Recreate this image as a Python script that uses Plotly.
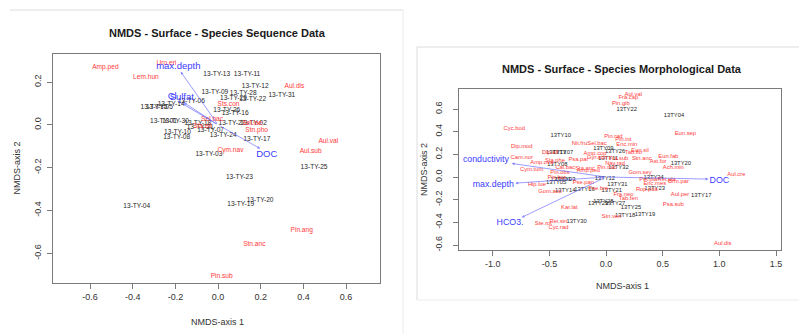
import plotly.graph_objects as go

# ---------------- Species sequence data (left ordination) ----------------
seq_site_names = ["13-TY-13", "13-TY-11", "13-TY-12", "13-TY-31", "13-TY-09", "13-TY-28",
                  "13-TY-29", "13-TY-22", "13-TY-06", "13-TY-14", "13-TY-15", "13-TY-05",
                  "13-TY-26", "13-TY-16", "13-TY-01", "13-TY-30", "13-TY-18", "13-TY-27",
                  "13-TY-02", "13-TY-21", "13-TY-07", "13-TY-10", "13-TY-08", "13-TY-24",
                  "13-TY-17", "13-TY-03", "13-TY-25", "13-TY-23", "13-TY-20", "13-TY-19",
                  "13-TY-04"]
seq_site_x = [-0.006, 0.136, 0.174, 0.299, -0.015, 0.118, 0.072, 0.162, -0.125, -0.22,
              -0.30, -0.275, 0.041, 0.08, -0.256, -0.20, -0.095, 0.065, 0.166, -0.084,
              -0.035, -0.19, -0.194, 0.024, 0.182, -0.043, 0.45, 0.10, 0.197, 0.106, -0.381]
seq_site_y = [0.238, 0.238, 0.18, 0.137, 0.15, 0.148, 0.124, 0.12, 0.112, 0.098,
              0.084, 0.084, 0.068, 0.053, 0.017, 0.017, 0.009, 0.006, 0.006, -0.014,
              -0.025, -0.034, -0.058, -0.048, -0.07, -0.138, -0.2, -0.247, -0.353, -0.373,
              -0.383]

seq_species_names = ["Amp.ped", "Uro.eri", "Lem.hun", "Aul.dis", "Sts.con", "Sel.bac",
                     "Sta.ell", "Sel.lae", "Stn.pho", "Aul.val", "Aul.sub", "Cym.nav",
                     "Pin.ang", "Stn.anc", "Pin.sub"]
seq_species_x = [-0.528, -0.242, -0.338, 0.358, 0.049, -0.028, -0.074, 0.16, 0.181, 0.517,
                 0.434, 0.058, 0.392, 0.17, 0.017]
seq_species_y = [0.27, 0.288, 0.223, 0.18, 0.094, 0.027, -0.006, 0.009, -0.025, -0.075,
                 -0.122, -0.12, -0.495, -0.558, -0.706]

seq_env_names = ["max.depth", "Cl", "Sulfat", "DOC"]
seq_env_x = [-0.175, -0.19, -0.16, 0.197]
seq_env_y = [0.248, 0.112, 0.104, -0.111]
seq_env_label_x = [-0.186, -0.215, -0.17, 0.228]
seq_env_label_y = [0.27, 0.133, 0.129, -0.1375]

seq_xticks = [-0.6, -0.4, -0.2, 0.0, 0.2, 0.4, 0.6]
seq_xtick_text = ["-0.6", "-0.4", "-0.2", "0.0", "0.2", "0.4", "0.6"]
seq_yticks = [-0.6, -0.4, -0.2, 0.0, 0.2]
seq_ytick_text = ["-0.6", "-0.4", "-0.2", "0.0", "0.2"]

# ---------------- Species morphological data (right ordination) ----------------
morph_site_names = ["13TY22", "13TY04", "13TY10", "13TY09", "13TY26", "13TY13", "13TY07",
                    "13TY08", "13TY11", "13TY32", "13TY20", "13TY12", "13TY24", "13TY31",
                    "13TY21", "13TY23", "13TY17", "13TY16", "13TY14", "13TY05", "13TY01",
                    "13TY03", "13TY28", "13TY29", "13TY27", "13TY25", "13TY18", "13TY19",
                    "13TY30"]
morph_site_x = [0.183, 0.60, -0.40, -0.024, 0.08, -0.44, -0.38, -0.43, 0.02, 0.11, 0.66,
                -0.01, 0.42, 0.10, 0.05, 0.43, 0.84, -0.19, -0.36, -0.44, -0.40, -0.36,
                -0.024, -0.07, 0.08, 0.22, 0.168, 0.344, -0.26]
morph_site_y = [0.597, 0.54, 0.365, 0.25, 0.223, 0.218, 0.218, 0.112, 0.165, 0.082, 0.12,
                -0.012, -0.006, -0.07, -0.12, -0.10, -0.165, -0.115, -0.12, -0.05, -0.02,
                -0.025, -0.218, -0.238, -0.238, -0.271, -0.344, -0.335, -0.394]

morph_species_names = ["Aul.val", "Fra.cap", "Pin.gib", "Cyc.bod", "Eun.sep", "Pin.rad",
                       "Pin.int", "Nit.fru", "Sel.bac", "Enc.min", "Dip.mod", "Dip.ell",
                       "Eun.sil", "Tab.flo", "Amp.cop", "Gyr.acu", "Stn.anc", "Eun.fab",
                       "Ast.for", "Ach.min", "Fra.sub", "Cam.nor", "Amp.ova", "Sta.phe",
                       "Psa.par", "Cym.tum", "Cal.bac", "Sta.anc", "Amp.ped", "Pin.obs",
                       "Pin.mic", "Nav.rad", "Gom.sey", "Pet.pla", "Ret.pla", "Brm.par",
                       "Aul.cre", "Enc.mes", "Rop.pda", "Hip.lue", "Pin.bor", "Gom.acu",
                       "Pse.pan", "Pse.bre", "Fra.neo", "Tab.fen", "Aul.per", "Psa.sub",
                       "Kar.lat", "Stn.ven", "Rei.sin", "Ste.rot", "Cyc.rad", "Aul.dis"]
morph_species_x = [0.24, 0.197, 0.13, -0.81, 0.70, 0.065, 0.153, -0.235, -0.08, 0.183,
                   -0.744, -0.494, 0.30, 0.241, -0.097, -0.08, 0.315, 0.55, 0.46, 0.594,
                   0.11, -0.744, -0.567, -0.45, -0.244, -0.656, -0.36, -0.185, -0.156,
                   -0.406, 0.006, 0.08, 0.30, 0.373, 0.535, 0.64, 1.15, 0.43, 0.36, -0.61,
                   -0.435, -0.494, -0.2, -0.068, 0.153, 0.197, 0.653, 0.594, -0.324, 0.05,
                   -0.42, -0.553, -0.42, 1.03]
morph_species_y = [0.724, 0.703, 0.65, 0.43, 0.38, 0.356, 0.335, 0.297, 0.297, 0.29,
                   0.268, 0.218, 0.23, 0.215, 0.21, 0.17, 0.165, 0.185, 0.135, 0.082,
                   0.165, 0.17, 0.13, 0.144, 0.15, 0.07, 0.082, 0.077, 0.06, 0.038, 0.08,
                   0.12, 0.038, -0.02, -0.026, -0.041, 0.026, -0.056, -0.115, -0.07,
                   -0.006, -0.124, -0.045, -0.106, -0.159, -0.194, -0.159, -0.247, -0.271,
                   -0.35, -0.394, -0.415, -0.444, -0.585]

morph_env_names = ["conductivity", "max.depth", "HCO3.", "DOC"]
morph_env_x = [-0.832, -0.80, -0.744, 0.903]
morph_env_y = [0.12, -0.054, -0.356, -0.018]
morph_env_label_x = [-1.06, -0.995, -0.847, 1.0]
morph_env_label_y = [0.156, -0.07, -0.40, -0.033]

morph_xticks = [-1.0, -0.5, 0.0, 0.5, 1.0, 1.5]
morph_xtick_text = ["-1.0", "-0.5", "0.0", "0.5", "1.0", "1.5"]
morph_yticks = [-0.6, -0.4, -0.2, 0.0, 0.2, 0.4, 0.6]
morph_ytick_text = ["-0.6", "-0.4", "-0.2", "0.0", "0.2", "0.4", "0.6"]

# ---------------- styling ----------------
W, H = 799, 334
FONT = "Liberation Sans, Arial, Helvetica, sans-serif"
SITE_COLOR = "#262626"
SPECIES_COLOR = "#ff3838"
ENV_COLOR = "#3a3aff"
ARROW_COLOR = "rgba(90,90,255,0.75)"
AXIS_COLOR = "#7a7a7a"
TICK_FONT_COLOR = "#333333"


def px(x):
    return x / W


def py(y):
    return 1 - y / H


fig = go.Figure()


def add_ordination(xa, ya, site_names, sx, sy, sp_names, spx, spy,
                   env_names, ex, ey, elx, ely, label_size, env_size):
    fig.add_trace(go.Scatter(x=sx, y=sy, text=site_names, mode="text",
                             textfont=dict(family=FONT, size=label_size, color=SITE_COLOR),
                             xaxis=xa, yaxis=ya, hoverinfo="skip", showlegend=False))
    fig.add_trace(go.Scatter(x=spx, y=spy, text=sp_names, mode="text",
                             textfont=dict(family=FONT, size=label_size, color=SPECIES_COLOR),
                             xaxis=xa, yaxis=ya, hoverinfo="skip", showlegend=False))
    for x, y in zip(ex, ey):
        fig.add_annotation(x=x, y=y, ax=0, ay=0, xref=xa, yref=ya,
                           axref=xa, ayref=ya, text="", showarrow=True,
                           arrowhead=2, arrowsize=0.7, arrowwidth=0.8,
                           arrowcolor=ARROW_COLOR)
    fig.add_trace(go.Scatter(x=elx, y=ely, text=env_names, mode="text",
                             textfont=dict(family=FONT, size=env_size, color=ENV_COLOR),
                             xaxis=xa, yaxis=ya, hoverinfo="skip", showlegend=False))


add_ordination("x", "y", seq_site_names, seq_site_x, seq_site_y,
               seq_species_names, seq_species_x, seq_species_y,
               seq_env_names, seq_env_x, seq_env_y, seq_env_label_x, seq_env_label_y,
               6.6, 9.5)
add_ordination("x2", "y2", morph_site_names, morph_site_x, morph_site_y,
               morph_species_names, morph_species_x, morph_species_y,
               morph_env_names, morph_env_x, morph_env_y, morph_env_label_x, morph_env_label_y,
               5.8, 8.8)

axis_common = dict(showline=True, mirror=True, linecolor=AXIS_COLOR, linewidth=1,
                   ticks="outside", ticklen=5, tickcolor=AXIS_COLOR, tickwidth=1,
                   showgrid=False, zeroline=False,
                   tickfont=dict(family=FONT, size=9, color=TICK_FONT_COLOR))

fig.update_layout(
    width=W, height=H,
    margin=dict(l=0, r=0, t=0, b=0),
    paper_bgcolor="white", plot_bgcolor="white",
    showlegend=False,
    xaxis=dict(domain=[px(52.7), px(380)], range=[-0.775, 0.759], anchor="y",
               tickvals=seq_xticks, ticktext=seq_xtick_text, **axis_common),
    yaxis=dict(domain=[py(283), py(54)], range=[-0.739, 0.331], anchor="x",
               tickvals=seq_yticks, ticktext=seq_ytick_text, tickangle=-90,
               ticklabelstandoff=2, **axis_common),
    xaxis2=dict(domain=[px(459.3), px(781)], range=[-1.295, 1.544], anchor="y2",
                tickvals=morph_xticks, ticktext=morph_xtick_text, **axis_common),
    yaxis2=dict(domain=[py(250), py(89)], range=[-0.644, 0.777], anchor="x2",
                tickvals=morph_yticks, ticktext=morph_ytick_text, tickangle=-90,
                ticklabelstandoff=8, **axis_common),
)

title_font = dict(family=FONT, size=11, color="#1a1a1a")
label_font = dict(family=FONT, size=9, color="#333333")
texts = [
    ("<b>NMDS - Surface - Species Sequence Data</b>", 217, 33, title_font, 0),
    ("<b>NMDS - Surface - Species Morphological Data</b>", 622, 69, title_font, 0),
    ("NMDS-axis 1", 217, 322, label_font, 0),
    ("NMDS-axis 2", 17, 168.5, label_font, -90),
    ("NMDS-axis 1", 622, 286, label_font, 0),
    ("NMDS-axis 2", 424, 170, label_font, -90),
]
for t, x, y, f, ang in texts:
    fig.add_annotation(text=t, x=px(x), y=py(y), xref="paper", yref="paper",
                       showarrow=False, font=f, textangle=ang,
                       xanchor="center", yanchor="middle")

# page frames around the two panels
frame = dict(color="#dcdcdc", width=1)
fig.add_shape(type="line", xref="paper", yref="paper", x0=px(10), x1=px(403),
              y0=py(10), y1=py(10), line=frame)
fig.add_shape(type="line", xref="paper", yref="paper", x0=px(403), x1=px(403),
              y0=py(10), y1=py(334), line=dict(color="#ececec", width=1))
fig.add_shape(type="line", xref="paper", yref="paper", x0=px(417), x1=1.0,
              y0=py(47), y1=py(47), line=frame)
fig.add_shape(type="line", xref="paper", yref="paper", x0=px(417), x1=px(417),
              y0=py(47), y1=py(300), line=frame)
fig.add_shape(type="line", xref="paper", yref="paper", x0=px(417), x1=1.0,
              y0=py(300), y1=py(300), line=dict(color="#ececec", width=1))

fig.write_html("out.html")
